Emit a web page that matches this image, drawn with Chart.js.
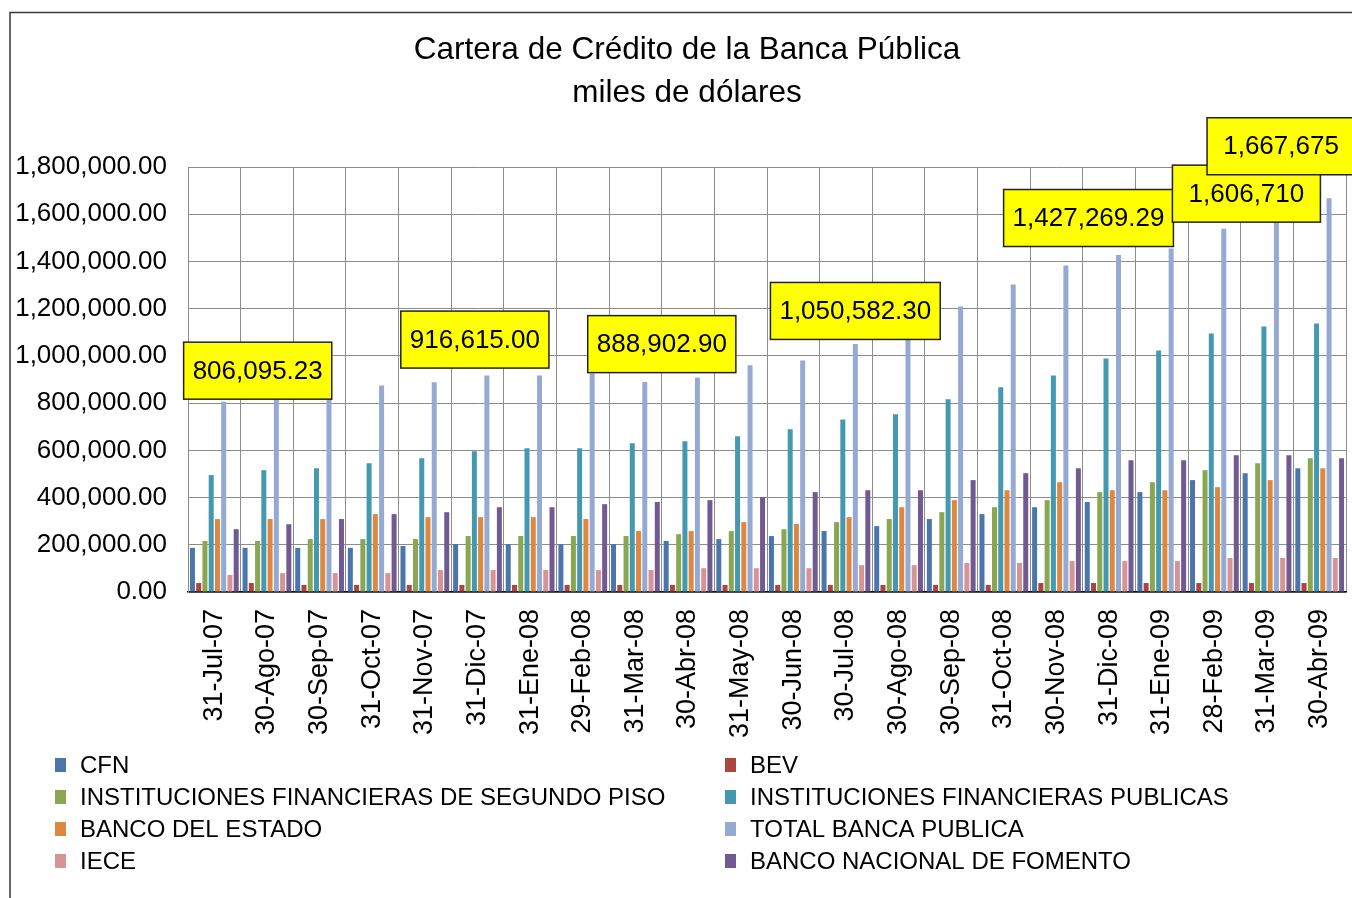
<!DOCTYPE html>
<html>
<head>
<meta charset="utf-8">
<script src="https://cdn.jsdelivr.net/npm/chart.js@4.4.1/dist/chart.umd.min.js"></script>
<style>
html,body{margin:0;padding:0;background:#fff;}
#c{display:block;}
</style>
</head>
<body>
<canvas id="c" width="1352" height="898"></canvas>
<script>
// ---- data ----
const categories = ['31-Jul-07','30-Ago-07','30-Sep-07','31-Oct-07','31-Nov-07','31-Dic-07','31-Ene-08','29-Feb-08','31-Mar-08','30-Abr-08','31-May-08','30-Jun-08','30-Jul-08','30-Ago-08','30-Sep-08','31-Oct-08','30-Nov-08','31-Dic-08','31-Ene-09','28-Feb-09','31-Mar-09','30-Abr-09'];
const cfn     = [187000,187000,187000,187000,195000,203000,203000,203000,203000,216000,224000,237000,258000,279000,309000,330000,359000,381000,423000,474000,503000,524000];
const bev     = [38000,38000,30000,30000,30000,30000,30000,30000,30000,30000,30000,30000,30000,30000,30000,30000,38000,38000,38000,38000,38000,38000];
const inst2   = [216000,216000,224000,224000,224000,237000,237000,237000,237000,245000,258000,266000,296000,309000,338000,359000,389000,423000,465000,516000,545000,566000];
const instPub = [495000,516000,524000,545000,566000,596000,609000,609000,630000,638000,660000,689000,731000,753000,816000,867000,917000,989000,1023000,1095000,1125000,1137000];
const bde     = [309000,309000,309000,330000,317000,317000,317000,309000,258000,258000,296000,288000,317000,359000,389000,431000,465000,431000,431000,444000,474000,524000];
const total   = [806095.23,828000,835000,875000,888000,916615.00,917000,925000,888902.90,909000,960000,981000,1050582.30,1112000,1209000,1302000,1383000,1427269.29,1455000,1539000,1606710,1667675];
const iece    = [72000,80000,80000,80000,93000,93000,93000,93000,93000,101000,101000,101000,114000,114000,123000,123000,131000,131000,131000,144000,144000,144000];
const bnf     = [266000,287000,309000,330000,338000,359000,359000,372000,381000,389000,402000,423000,431000,431000,474000,503000,524000,558000,558000,579000,579000,566000];
const seriesNames = ['CFN','BEV','INSTITUCIONES FINANCIERAS DE SEGUNDO PISO','INSTITUCIONES FINANCIERAS PUBLICAS','BANCO DEL ESTADO','TOTAL BANCA PUBLICA','IECE','BANCO NACIONAL DE FOMENTO'];
const labelPoints = [0,5,8,12,17,20,21];      // categories of TOTAL with a value label
const labelDecimals = [2,2,2,2,2,0,0];

// ---- styles ----
const colors = ['#4A76AC','#AC4440','#8AA651','#4499B0','#DE8740','#94AAD2','#D69594','#715A92'];
const labelOffsets = [[34,-31],[-12,-36],[17,-38],[0,-33],[-30,-37],[-30,-19],[-48,-52]];
const FONT = '"Liberation Sans", Arial, sans-serif';

const seriesData = [cfn,bev,inst2,instPub,bde,total,iece,bnf];
const datasets = seriesNames.map((n,i)=>({
  label:n, data:seriesData[i], backgroundColor:colors[i], borderWidth:0,
  categoryPercentage:0.95, barPercentage:0.8
}));

function fmt(v,d){return v.toLocaleString('en-US',{minimumFractionDigits:d,maximumFractionDigits:d});}

const decor = {
  id:'decor',
  afterDraw(chart){
    const ctx = chart.ctx;
    ctx.save();
    // outer frame (top + left)
    ctx.strokeStyle='#3a3a3a'; ctx.lineWidth=1.5;
    ctx.beginPath(); ctx.moveTo(10,898); ctx.lineTo(10,12.5); ctx.lineTo(1352,12.5); ctx.stroke();
    // title
    ctx.fillStyle='#000'; ctx.textAlign='center'; ctx.textBaseline='middle';
    ctx.font='31.5px '+FONT;
    ctx.fillText('Cartera de Crédito de la Banca Pública',687,50);
    ctx.fillText('miles de dólares',687,93);
    // legend (two columns, row-major)
    ctx.font='24px '+FONT; ctx.textAlign='left';
    seriesNames.forEach((n,i)=>{
      const col=i%2, row=Math.floor(i/2);
      const x = col===0 ? 55 : 725;
      const y = 765 + row*32;
      ctx.fillStyle=colors[i]; ctx.fillRect(x,y-7,11,14);
      ctx.fillStyle='#000'; ctx.fillText(n,x+25,y+1);
    });
    // data labels on TOTAL
    const meta = chart.getDatasetMeta(5);
    ctx.font='26px '+FONT; ctx.textAlign='center'; ctx.textBaseline='middle';
    labelPoints.forEach((ci,k)=>{
      const el = meta.data[ci];
      const txt = fmt(total[ci],labelDecimals[k]);
      const w = Math.max(148, ctx.measureText(txt).width+18);
      const h = 57;
      const cx = el.x + labelOffsets[k][0];
      const cy = el.y + labelOffsets[k][1];
      ctx.fillStyle='#FFFF00';
      ctx.fillRect(cx-w/2,cy-h/2,w,h);
      ctx.strokeStyle='#222'; ctx.lineWidth=1.5;
      ctx.strokeRect(cx-w/2,cy-h/2,w,h);
      ctx.fillStyle='#000';
      ctx.fillText(txt,cx,cy+1);
    });
    ctx.restore();
  }
};

new Chart(document.getElementById('c'),{
  type:'bar',
  data:{labels:categories, datasets},
  options:{
    responsive:false, maintainAspectRatio:false, animation:false,
    layout:{padding:{left:10,right:6,top:167,bottom:0}},
    plugins:{legend:{display:false}, title:{display:false}, tooltip:{enabled:false}},
    scales:{
      x:{
        grid:{offset:true, color:'#8c8c8c', drawTicks:false},
        border:{color:'#111', width:1.5},
        ticks:{color:'#000', font:{family:FONT,size:27}, maxRotation:90, minRotation:90, padding:17, autoSkip:false},
        afterFit(s){ s.height = 306; s.paddingLeft = 0; s.paddingRight = 0; }
      },
      y:{
        min:0, max:1800000,
        grid:{color:'#8c8c8c', drawTicks:false},
        border:{color:'#8c8c8c'},
        ticks:{stepSize:200000, color:'#000', font:{family:FONT,size:26}, padding:21,
          callback:(v)=>fmt(v,2)},
        afterFit(s){ s.width = 178; }
      }
    }
  },
  plugins:[decor]
});
</script>
</body>
</html>
